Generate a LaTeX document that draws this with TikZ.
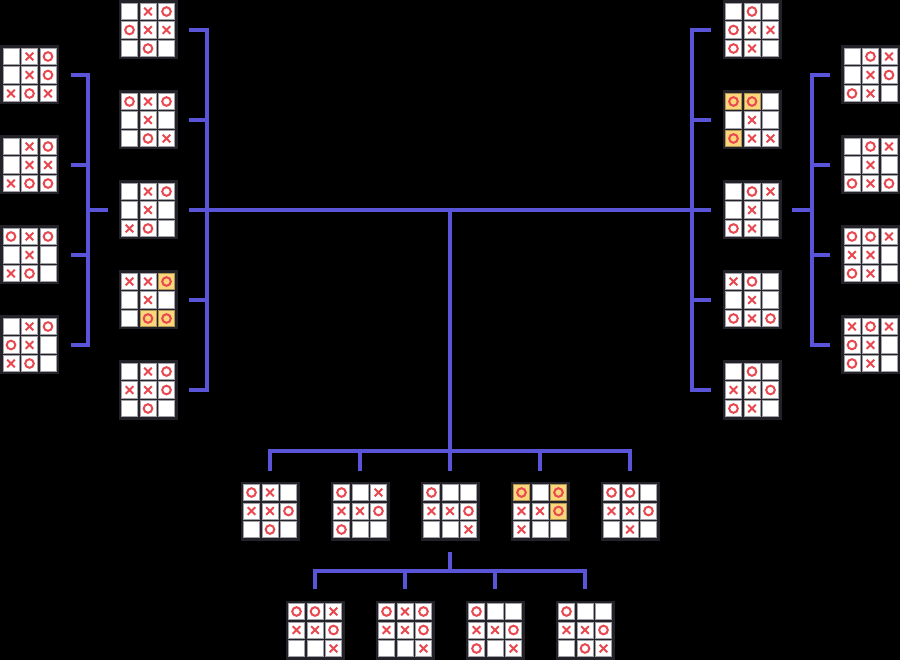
\documentclass[tikz,border=0pt]{standalone}
\usetikzlibrary{calc}
\definecolor{connc}{RGB}{90,84,216}
\definecolor{framec}{RGB}{34,34,40}
\definecolor{xored}{RGB}{232,72,80}
\definecolor{hilc}{RGB}{252,214,122}
\definecolor{cellline}{RGB}{160,160,166}
\tikzset{
  conn/.style={draw=connc, line width=4pt, line join=miter},
  boardbg/.style={rectangle, fill=framec, minimum size=59pt, inner sep=0pt},
  cellbox/.style={fill=white, draw=cellline, line width=0.8pt},
  hilbox/.style={fill=hilc, draw=hilc!70!black, line width=0.8pt},
  xostroke/.style={draw=xored, line width=2pt},
  cellE/.pic={\path[cellbox] (-8.1,-8.1) rectangle (8.1,8.1);},
  cellX/.pic={\path[cellbox] (-8.1,-8.1) rectangle (8.1,8.1);
              \path[xostroke] (-3.8,-3.8) -- (3.8,3.8) (-3.8,3.8) -- (3.8,-3.8);},
  cellO/.pic={\path[cellbox] (-8.1,-8.1) rectangle (8.1,8.1);
              \path[xostroke] (0,0) circle (4.3);},
  cellH/.pic={\path[hilbox] (-8.1,-8.1) rectangle (8.1,8.1);
              \path[xostroke] (0,0) circle (4.3);},
}
\newcommand{\tttboard}[4]{%
  \node[boardbg] (#1) at (#2,#3) {};
  \foreach \v [count=\i from 0] in {#4} {
    \pgfmathsetmacro\cx{#2+(mod(\i,3)-1)*18.5}
    \pgfmathsetmacro\cy{#3+(floor(\i/3)-1)*18.5}
    \edef\tmp{\noexpand\pic at (\cx,\cy) {cell\v};}\tmp
  }
}
\begin{document}
\begin{tikzpicture}[x=1pt,y=-1pt]
\fill[black] (0,0) rectangle (900,660);
% left outer column
\tttboard{L1}{29.5}{75}{E,X,O,E,X,O,X,O,X}
\tttboard{L2}{29.5}{165}{E,X,O,E,X,X,X,O,O}
\tttboard{L3}{29.5}{255}{O,X,O,E,X,E,X,O,E}
\tttboard{L4}{29.5}{345}{E,X,O,O,X,E,X,O,E}
% left inner column
\tttboard{M1}{148}{30}{E,X,O,O,X,X,E,O,E}
\tttboard{M2}{148}{120}{O,X,O,E,X,E,E,O,X}
\tttboard{M3}{148}{210}{E,X,O,E,X,E,X,O,E}
\tttboard{M4}{148}{300}{X,X,H,E,X,E,E,H,H}
\tttboard{M5}{148}{390}{E,X,O,X,X,O,E,O,E}
% right inner column
\tttboard{R1}{752}{30}{E,O,E,O,X,X,O,X,E}
\tttboard{R2}{752}{120}{H,H,E,E,X,E,H,X,X}
\tttboard{R3}{752}{210}{E,O,X,E,X,E,O,X,E}
\tttboard{R4}{752}{300}{X,O,E,E,X,E,O,X,O}
\tttboard{R5}{752}{390}{E,O,E,X,X,O,O,X,E}
% right outer column
\tttboard{S1}{870.5}{75}{E,O,X,E,X,O,O,X,E}
\tttboard{S2}{870.5}{165}{E,O,X,E,X,E,O,X,O}
\tttboard{S3}{870.5}{255}{O,O,X,X,X,E,O,X,E}
\tttboard{S4}{870.5}{345}{X,O,X,O,X,E,O,X,E}
% bottom row 1
\tttboard{B1}{270}{511}{O,X,E,X,X,O,E,O,E}
\tttboard{B2}{360}{511}{O,E,X,X,X,O,O,E,E}
\tttboard{B3}{450}{511}{O,E,E,X,X,O,E,E,X}
\tttboard{B4}{540}{511}{H,E,H,X,X,H,X,E,E}
\tttboard{B5}{630}{511}{O,O,E,X,X,O,E,X,E}
% bottom row 2
\tttboard{C1}{315}{630}{O,O,X,X,X,O,E,E,X}
\tttboard{C2}{405}{630}{O,X,O,X,X,O,E,E,X}
\tttboard{C3}{495}{630}{O,E,E,X,X,O,O,E,X}
\tttboard{C4}{585}{630}{O,E,E,X,X,O,E,O,X}

% left outer bracket
\coordinate (lb) at (88,210);
\coordinate (lbend) at (108,210);
\draw[conn] ([xshift=11.5]L1.east) -| (lb) |- ([xshift=11.5]L4.east);
\draw[conn] ([xshift=11.5]L2.east) -- (L2.east -| lb);
\draw[conn] ([xshift=11.5]L3.east) -- (L3.east -| lb);
\draw[conn] (lb) -- (lbend);
% left inner bracket
\coordinate (mb) at (207,210);
\draw[conn] ([xshift=11]M1.east) -| (mb) |- ([xshift=11]M5.east);
\draw[conn] ([xshift=11]M2.east) -- (M2.east -| mb);
\draw[conn] ([xshift=11]M4.east) -- (M4.east -| mb);
% main line
\draw[conn] ([xshift=11]M3.east) -- ([xshift=-11]R3.west);
% right inner bracket
\coordinate (rb) at (692,210);
\draw[conn] ([xshift=-11]R1.west) -| (rb) |- ([xshift=-11]R5.west);
\draw[conn] ([xshift=-11]R2.west) -- (R2.west -| rb);
\draw[conn] ([xshift=-11]R4.west) -- (R4.west -| rb);
% right outer bracket
\coordinate (sb) at (812,210);
\coordinate (sbend) at (792,210);
\draw[conn] ([xshift=-10.5]S1.west) -| (sb) |- ([xshift=-10.5]S4.west);
\draw[conn] ([xshift=-10.5]S2.west) -- (S2.west -| sb);
\draw[conn] ([xshift=-10.5]S3.west) -- (S3.west -| sb);
\draw[conn] (sb) -- (sbend);
% central stem
\coordinate (ctop) at (450,210);
\coordinate (cmid) at (450,451);
\draw[conn] (ctop) -- (cmid);
% bottom bracket 1
\draw[conn] ([yshift=10]B1.north) |- (cmid) -| ([yshift=10]B5.north);
\draw[conn] ([yshift=10]B2.north) -- (B2.north |- cmid);
\draw[conn] (cmid) -- ([yshift=10]B3.north);
\draw[conn] ([yshift=10]B4.north) -- (B4.north |- cmid);
% bottom bracket 2
\coordinate (dmid) at (450,571);
\draw[conn] ([yshift=-11]B3.south) -- (dmid);
\draw[conn] ([yshift=11]C1.north) |- (dmid) -| ([yshift=11]C4.north);
\draw[conn] ([yshift=11]C2.north) -- (C2.north |- dmid);
\draw[conn] ([yshift=11]C3.north) -- (C3.north |- dmid);
\end{tikzpicture}
\end{document}
